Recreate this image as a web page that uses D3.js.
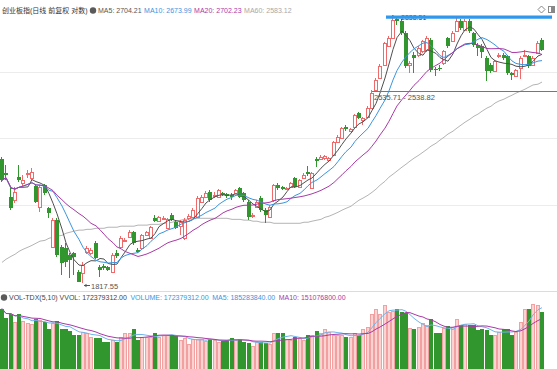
<!DOCTYPE html>
<html><head><meta charset="utf-8">
<script src="https://cdn.jsdelivr.net/npm/d3@7"></script>
<style>
body{margin:0;background:#fff;}
svg{display:block;font-family:"Liberation Sans","Noto Sans CJK SC",Arial,sans-serif;}
</style>
</head><body>
<svg id="c" width="557" height="369"></svg>
<script>
// ---- data ----
const opens  = [2289,2236,2144,2133,2221,2198,2232,2217,2186,2106,2190,2102,1954,2057,1954,1950,1923,1931,1858,1855,
1935,1931,1969,1877,1881,1877,1858,1931,1954,1980,1992,2011,1942,1950,1999,1988,2064,2053,2060,2026,
2076,2049,2034,1988,2064,2068,2068,2125,2144,2163,2148,2144,2160,2156,2152,2160,2179,2160,2125,2072,
2106,2141,2095,2068,2133,2190,2183,2175,2183,2217,2183,2217,2240,2179,2289,2289,2293,2286,2305,2354,
2369,2411,2396,2411,2465,2438,2450,2484,2552,2598,2648,2720,2751,2823,2816,2770,2648,2686,2686,2701,
2705,2743,2633,2636,2655,2751,2739,2778,2816,2781,2816,2770,2724,2720,2675,2648,2625,2682,2686,2682,
2617,2606,2636,2682,2682,2648,2694,2743];
const closes = [2209,2228,2102,2163,2209,2209,2236,2240,2125,2183,2160,2083,2057,1923,1893,1896,1904,1916,1820,1885,
1950,1942,1912,1866,1874,1866,1923,1919,1988,1981,2011,1969,1935,1999,2011,2030,2053,2068,2064,2060,
2057,2026,2049,2057,2072,2095,2141,2144,2160,2133,2152,2171,2152,2148,2144,2171,2144,2133,2068,2076,
2125,2095,2076,2106,2190,2179,2175,2179,2198,2183,2209,2228,2232,2236,2282,2297,2301,2293,2354,2373,
2408,2404,2404,2457,2446,2446,2484,2541,2591,2644,2732,2751,2819,2816,2770,2644,2655,2675,2713,2739,
2751,2629,2629,2633,2701,2720,2770,2816,2789,2816,2778,2724,2713,2697,2625,2625,2663,2686,2675,2617,
2610,2629,2675,2686,2644,2675,2732,2705];
const highs  = [2297,2266,2179,2183,2266,2228,2247,2255,2190,2190,2194,2106,2064,2064,1961,1969,1931,1935,1866,1896,
1958,1950,1977,1885,1889,1881,1931,1942,1996,1988,2019,2015,1950,2003,2015,2034,2076,2072,2072,2064,
2083,2057,2057,2064,2080,2102,2148,2152,2167,2171,2163,2175,2163,2160,2160,2175,2183,2163,2133,2083,
2133,2148,2102,2114,2194,2198,2186,2183,2202,2221,2213,2236,2263,2240,2297,2305,2305,2297,2358,2381,
2411,2419,2408,2461,2469,2450,2491,2552,2598,2652,2736,2758,2838.51,2831,2823,2778,2663,2697,2720,2743,
2758,2751,2640,2648,2705,2755,2778,2827,2823,2823,2823,2774,2732,2728,2682,2655,2667,2694,2694,2686,
2621,2633,2682,2705,2686,2682,2739,2751];
const lows   = [2202,2209,2095,2122,2202,2186,2217,2209,2122,2087,2152,2064,1950,1916,1847,1877,1835,1847,1822,1817.55,
1927,1923,1908,1839,1866,1862,1855,1912,1946,1973,1988,1961,1931,1946,1996,1984,2049,2049,2057,2022,
2053,2022,1999,1980,2057,2064,2064,2122,2141,2125,2141,2141,2148,2141,2133,2156,2141,2125,2057,2064,
2102,2087,2045,2064,2125,2171,2171,2171,2179,2179,2179,2213,2224,2175,2259,2286,2286,2282,2301,2350,
2366,2396,2392,2408,2442,2419,2446,2480,2549,2594,2644,2716,2747,2800,2762,2636,2617,2617,2678,2694,
2697,2621,2606,2625,2648,2713,2736,2774,2781,2778,2770,2716,2682,2675,2587,2617,2621,2675,2667,2610,
2591,2602,2594,2678,2636,2644,2690,2701];
const volumes = [183,153,166,141,166,146,140,136,150,148,142,120,138,145,120,120,116,103,103,113,
108,98,93,94,81,82,88,82,98,108,108,120,88,98,96,98,110,98,103,103,
104,100,88,93,77,91,91,90,86,91,88,81,86,88,94,88,91,82,80,70,
82,82,80,77,110,108,108,90,88,98,93,88,103,104,115,108,120,113,104,104,
103,96,96,108,104,120,128,166,183,166,193,173,176,183,173,168,123,120,126,138,
133,150,108,108,123,130,128,150,133,136,133,133,118,120,118,103,104,113,120,120,
103,113,143,183,183,196,193,172.379312]; // millions
const ma60 = [1896,1908,1919,1927,1938,1946,1954,1961,1969,1977,
1980,1988,1992,1996,1999,2007,2011,2015,2019,2019,
2022,2022,2026,2026,2026,2030,2030,2030,2034,2034,
2034,2034,2038,2038,2038,2041,2041,2041,2045,2045,
2049,2053,2057,2060,2060,2064,2064,2064,2064,2064,
2064,2064,2064,2064,2060,2060,2060,2057,2057,2053,
2053,2049,2049,2049,2045,2045,2045,2045,2045,2045,
2045,2049,2049,2053,2057,2060,2068,2072,2080,2087,
2095,2102,2110,2122,2133,2141,2152,2163,2175,2190,
2205,2221,2232,2244,2259,2270,2282,2293,2305,2316,
2327,2339,2350,2362,2373,2385,2396,2408,2419,2430,
2442,2453,2461,2472,2484,2491,2503,2511,2518,2526,
2533,2541,2549,2556,2564,2572,2575,2583.12];
const priceLow = 1817.55, priceHigh = 2838.51;
const hLineLabel = "2535.71 - 2538.82", hLineValue = 2535.71;
const mainTitle = "创业板指(日线 前复权 对数)";
const mainLegend = [
  {t:"MA5: 2704.21", c:"#555555"},
  {t:"MA10: 2673.99", c:"#3a95e0"},
  {t:"MA20: 2702.23", c:"#a93aa6"},
  {t:"MA60: 2583.12", c:"#a8a8a8"}];
const volLegend = [
  {t:"VOL-TDX(5,10) VVOL: 172379312.00", c:"#444444"},
  {t:"VOLUME: 172379312.00", c:"#3a95e0"},
  {t:"MA5: 185283840.00", c:"#3a95e0"},
  {t:"MA10: 151076800.00", c:"#a93aa6"}];

// ---- drawing ----
const W=557,H=369;
const svg=d3.select("#c");
const n=closes.length;
const RED="#ef6a6a", GREEN="#32962f";
const FS=7;
const x=d3.scaleBand().domain(d3.range(n)).range([0.5,543.5]).paddingInner(0.25);
const cx=i=>Math.round(x(i)+x.bandwidth()/2);
const y=d3.scaleLinear().domain([priceLow,priceHigh]).range([283,15]);
const vy=d3.scaleLinear().domain([0,200]).range([369,302.9]);

function ma(arr,k){return arr.map((_,i)=>{const s=Math.max(0,i-k+1);return d3.mean(arr.slice(s,i+1));});}

// grid
const g0=svg.append("g");
[72,138,205].forEach(v=>g0.append("line").attr("x1",0).attr("x2",W).attr("y1",v+0.5).attr("y2",v+0.5).attr("stroke","#ececec"));
g0.append("line").attr("x1",0).attr("x2",W).attr("y1",291.5).attr("y2",291.5).attr("stroke","#dcdcdc");

// MA60 first (under candles)
const lineGen=d3.line().x((d,i)=>cx(i)).y(d=>y(d)).curve(d3.curveLinear);
svg.append("path").datum(ma60).attr("d",lineGen).attr("fill","none").attr("stroke","#b4b4b4").attr("stroke-width",1);

// candles
const cg=svg.append("g").attr("shape-rendering","crispEdges");
for(let i=0;i<n;i++){
  const o=opens[i],c=closes[i],h=highs[i],l=lows[i];
  const up=c>=o;
  const col=up?RED:GREEN;
  const xc=cx(i);
  const top=Math.round(y(Math.max(o,c))), bot=Math.round(y(Math.min(o,c)));
  const bh=Math.max(1,bot-top);
  if(up){
    cg.append("line").attr("x1",xc-0.5).attr("x2",xc-0.5).attr("y1",y(h)).attr("y2",top).attr("stroke",col);
    cg.append("line").attr("x1",xc-0.5).attr("x2",xc-0.5).attr("y1",top+bh).attr("y2",y(l)).attr("stroke",col);
    cg.append("rect").attr("x",xc-2+0.5).attr("y",top+0.5).attr("width",3).attr("height",Math.max(0.5,bh)).attr("fill","#fff").attr("stroke",col);
  }else{
    cg.append("line").attr("x1",xc-0.5).attr("x2",xc-0.5).attr("y1",y(h)).attr("y2",y(l)).attr("stroke",col);
    cg.append("rect").attr("x",xc-2).attr("y",top).attr("width",4).attr("height",bh).attr("fill",col);
  }
}

// MA5/10/20 from closes
[[5,"#505050"],[10,"#3a95e0"],[20,"#a93aa6"]].forEach(([k,col])=>{
  svg.append("path").datum(ma(closes,k)).attr("d",lineGen).attr("fill","none").attr("stroke",col).attr("stroke-width",1);
});

// annotations
svg.append("text").attr("x",401).attr("y",20).attr("font-size",FS).attr("fill","#333").text(priceHigh.toFixed(2));
svg.append("line").attr("x1",cx(92)).attr("x2",cx(92)).attr("y1",y(priceHigh)).attr("y2",y(priceHigh)+3).attr("stroke","#555");
svg.append("line").attr("x1",386).attr("x2",552).attr("y1",y(priceHigh)+2.2).attr("y2",y(priceHigh)+2.2).attr("stroke","#2f97ec").attr("stroke-width",3.2);
const hy=Math.round(y(hLineValue))-2.5;
svg.append("line").attr("x1",372).attr("x2",W).attr("y1",hy).attr("y2",hy).attr("stroke","#777").attr("stroke-width",1);
svg.append("text").attr("x",374).attr("y",hy+8).attr("font-size",FS+0.5).attr("fill","#555").text(hLineLabel);
const li=lows.indexOf(priceLow);
svg.append("line").attr("x1",cx(li)+1).attr("x2",cx(li)+7).attr("y1",285.5).attr("y2",285.5).attr("stroke","#555");
svg.append("path").attr("d",`M${cx(li)+1},285.5 l2.5,-1.8 v3.6 z`).attr("fill","#555");
svg.append("text").attr("x",cx(li)+8).attr("y",288.5).attr("font-size",FS+0.5).attr("fill","#555").text(priceLow.toFixed(2));

// legends (chained left to right)
function chain(items,x0,yb,gap){
  let xx=x0;
  items.forEach(d=>{
    const t=svg.append("text").attr("x",xx).attr("y",yb).attr("font-size",FS).attr("fill",d.c).text(d.t);
    xx+=t.node().getComputedTextLength()+gap;
  });
}
svg.append("text").attr("x",2).attr("y",13).attr("font-size",FS).attr("fill","#333").text(mainTitle);
svg.append("circle").attr("cx",93).attr("cy",10.5).attr("r",3.2).attr("fill","#5a5a5a");
chain(mainLegend,98,13,2.5);
// top-right icons
svg.append("path").attr("d","M541.5,6 l3.5,3.5 l-3.5,3.5 l-3.5,-3.5 z").attr("fill","none").attr("stroke","#888");
svg.append("rect").attr("x",548.5).attr("y",6.5).attr("width",6).attr("height",6).attr("fill","none").attr("stroke","#888");
svg.append("rect").attr("x",551).attr("y",7).attr("width",3).attr("height",5).attr("fill","#888");

// volume bars
const vg=svg.append("g").attr("shape-rendering","crispEdges");
for(let i=0;i<n;i++){
  const up=closes[i]>=opens[i];
  const xc=cx(i), t=Math.round(vy(volumes[i]));
  if(up) vg.append("rect").attr("x",xc-2+0.5).attr("y",t+0.5).attr("width",3).attr("height",369-t).attr("fill","#fcd3d3").attr("stroke","#f3a0a0");
  else vg.append("rect").attr("x",xc-2).attr("y",t).attr("width",4).attr("height",369-t).attr("fill",GREEN);
}
const vLine=d3.line().x((d,i)=>cx(i)).y(d=>vy(d));
svg.append("path").datum(ma(volumes,5)).attr("d",vLine).attr("fill","none").attr("stroke","#6fb4ea").attr("stroke-width",1);
svg.append("path").datum(ma(volumes,10)).attr("d",vLine).attr("fill","none").attr("stroke","#a93aa6").attr("stroke-width",1);

// volume legend
svg.append("circle").attr("cx",4).attr("cy",297.5).attr("r",3.2).attr("fill","#5a5a5a");
chain(volLegend,9,300,3.5);
</script>
</body></html>
